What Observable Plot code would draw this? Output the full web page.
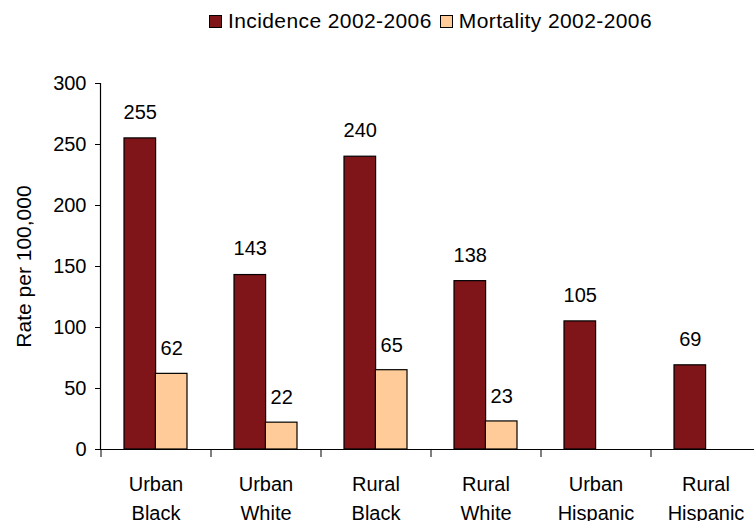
<!DOCTYPE html>
<html>
<head>
<meta charset="utf-8">
<script src="https://cdn.jsdelivr.net/npm/d3@7"></script>
<script src="https://cdn.jsdelivr.net/npm/@observablehq/plot@0.6"></script>
<style>
  html, body { margin: 0; padding: 0; background: #fff; overflow: hidden; }
  body { width: 754px; height: 521px; font-family: "Liberation Sans", Arial, sans-serif; position: relative; }
  #legend { position: relative; height: 45px; font-size: 21px; color: #000; letter-spacing: 0.4px; }
  #legend .inner { position: absolute; left: 209px; top: 9px; display: flex; align-items: center; white-space: nowrap; }
  .item { display: flex; align-items: center; margin-right: 8px; }
  .sw { width: 11px; height: 11px; border: 1px solid #000; margin-right: 6px; }
</style>
</head>
<body>
<div id="legend"><div class="inner"></div></div>
<div id="chart"></div>
<script>
const categories = ["Urban Black", "Urban White", "Rural Black", "Rural White", "Urban Hispanic", "Rural Hispanic"];
const incidence = [255, 143, 240, 138, 105, 69];
const mortality = [62, 22, 65, 23, null, null];
const seriesNames = ["Incidence 2002-2006", "Mortality 2002-2006"];
const seriesColors = ["#7f1419", "#ffcc99"];
const yTicks = [0, 50, 100, 150, 200, 250, 300];

const inc = categories.map((c, i) => ({category: c, value: incidence[i]}));
const mor = categories.map((c, i) => ({category: c, value: mortality[i]})).filter(d => d.value != null);

const legend = document.querySelector("#legend .inner");
seriesNames.forEach((s, i) => {
  const it = document.createElement("div");
  it.className = "item";
  const sw = document.createElement("div");
  sw.className = "sw";
  sw.style.background = seriesColors[i];
  const t = document.createElement("span");
  t.textContent = s;
  it.appendChild(sw); it.appendChild(t);
  legend.appendChild(it);
});

const half = 31.4;
const chart = Plot.plot({
  width: 754,
  height: 476,
  marginLeft: 100,
  marginRight: 0,
  marginTop: 38,
  marginBottom: 72,
  style: {fontFamily: "Liberation Sans, Arial, sans-serif", fontSize: "20px", color: "#000", background: "#fff"},
  x: {domain: categories, range: [100, 760], paddingInner: 0.43, paddingOuter: 0.215, axis: null},
  y: {domain: [0, 300], axis: null},
  marks: [
    Plot.barY(inc, {x: "category", y: "value", fill: seriesColors[0], stroke: "#000", strokeWidth: 1.2, insetRight: half}),
    Plot.barY(mor, {x: "category", y: "value", fill: seriesColors[1], stroke: "#000", strokeWidth: 1.2, insetLeft: half}),
    Plot.text(inc, {x: "category", y: "value", text: d => String(d.value), dx: -half / 2, dy: -26, fontSize: 20, fill: "#000"}),
    Plot.text(mor, {x: "category", y: "value", text: d => String(d.value), dx: half / 2, dy: -25, fontSize: 20, fill: "#000"}),
    Plot.axisY({ticks: yTicks, tickSize: 5, tickPadding: 9, fontSize: 20, label: null}),
    Plot.axisY({ticks: [], label: "Rate per 100,000", labelAnchor: "center", labelOffset: 84, labelArrow: "none", fontSize: 21}),
    Plot.axisX({tickSize: 0, tickPadding: 21, fontSize: 20, lineHeight: 1.45, tickFormat: d => d.replace(" ", "\n"), label: null}),
    Plot.axisX({tickSize: 8, tickFormat: () => "", dx: -55, label: null}),
    Plot.ruleY([0], {stroke: "#000", strokeWidth: 1.2}),
    Plot.frame({anchor: "left", stroke: "#000", strokeWidth: 1.2})
  ]
});
document.getElementById("chart").appendChild(chart);
</script>
</body>
</html>
